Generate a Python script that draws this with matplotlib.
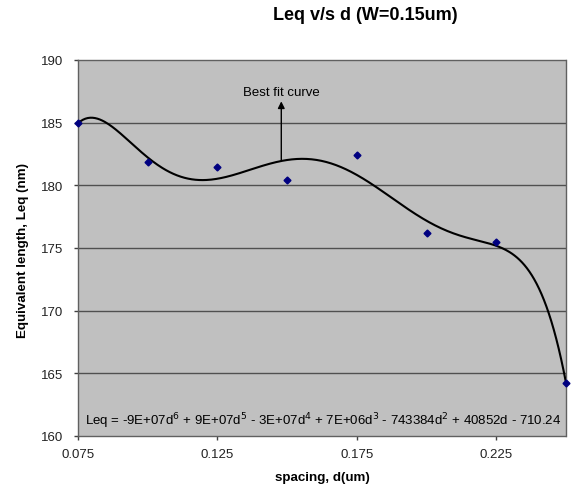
import numpy as np
import matplotlib.pyplot as plt

plt.rcParams['font.family'] = ['Liberation Sans', 'DejaVu Sans']

spacing = [0.075, 0.100, 0.125, 0.150, 0.175, 0.200, 0.225, 0.250]
leq = [185.0, 181.9, 181.5, 180.4, 182.45, 176.2, 175.5, 164.2]

x_ticks = [0.075, 0.125, 0.175, 0.225]
y_ticks = [160, 165, 170, 175, 180, 185, 190]

equation = (r'Leq = -9E+07d$^6$ + 9E+07d$^5$ - 3E+07d$^4$ + 7E+06d$^3$'
            r' - 743384d$^2$ + 40852d - 710.24')

# 6th order polynomial trendline, like the spreadsheet does
coef = np.polyfit(spacing, leq, 6)
xs = np.linspace(min(spacing), max(spacing), 400)
ys = np.polyval(coef, xs)

fig = plt.figure(figsize=(5.71, 4.89), dpi=100)
fig.patch.set_facecolor('white')
ax = fig.add_axes([78 / 571, 52 / 489, 488 / 571, 376 / 489])
ax.set_facecolor('#c0c0c0')

for yv in y_ticks[1:-1]:
    ax.axhline(yv, color='#505050', linewidth=1.0, zorder=1)

ax.plot(xs, ys, color='black', linewidth=1.5, zorder=3)
ax.plot(spacing, leq, linestyle='none', marker='D', markersize=3.5,
        color='#000080', zorder=4, clip_on=False)

ax.set_xlim(0.075, 0.25)
ax.set_ylim(160, 190)
ax.set_xticks(x_ticks)
ax.set_xticklabels(['0.075', '0.125', '0.175', '0.225'])
ax.set_yticks(y_ticks)
ax.tick_params(axis='both', direction='out', length=3, width=1,
               labelsize=9.5, color='#404040', labelcolor='#222222')
ax.tick_params(axis='x', pad=6)
ax.tick_params(axis='y', pad=8)

for s in ax.spines.values():
    s.set_linestyle((0, (1, 1)))
    s.set_color('#606060')
    s.set_linewidth(1.0)

ax.annotate('', xy=(0.1479, 186.7), xytext=(0.1479, 182.0),
            arrowprops=dict(arrowstyle='-|>', color='black', lw=1.0,
                            mutation_scale=10, shrinkA=0, shrinkB=0),
            zorder=5)
ax.text(0.1480, 187.45, 'Best fit curve', fontsize=9.5, ha='center', va='center')

ax.text(0.163, 161.3, equation, fontsize=9.5, ha='center', va='center')

fig.text(365 / 571, 1 - 15 / 489, 'Leq v/s d (W=0.15um)', fontsize=13,
         fontweight='bold', ha='center', va='center')
fig.text(322 / 571, 1 - 478 / 489, 'spacing, d(um)', fontsize=9.6,
         fontweight='bold', ha='center', va='center')
fig.text(23 / 571, 1 - 251 / 489, 'Equivalent length, Leq (nm)', fontsize=9.6,
         fontweight='bold', ha='center', va='center', rotation=90)

fig.savefig('out.png', dpi=100, facecolor='white')
